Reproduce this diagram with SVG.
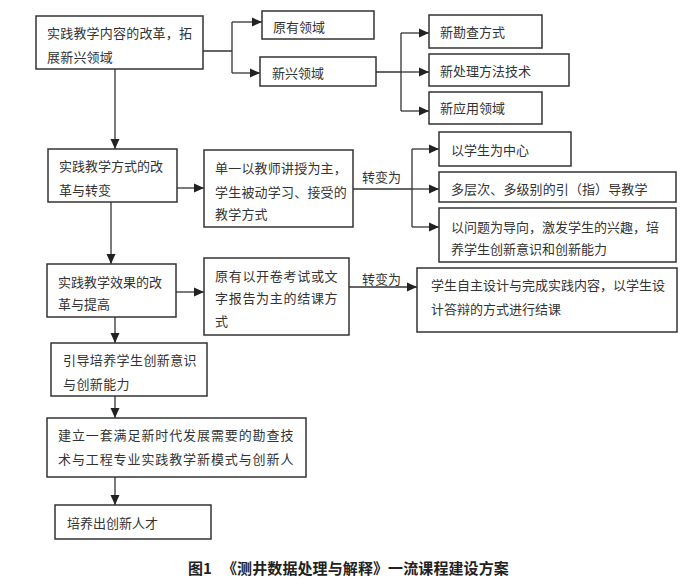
<svg xmlns="http://www.w3.org/2000/svg" width="700" height="588" viewBox="0 0 700 588">
<defs>
<marker id="ah" markerUnits="userSpaceOnUse" markerWidth="10" markerHeight="10" viewBox="0 0 10 10" refX="10" refY="5" orient="auto">
<path d="M0,0.5 L10,5 L0,9.5 Z" fill="#222"/>
</marker>
<style>
.box{fill:#fff;stroke:#333;stroke-width:1.5}
.t{font-family:"Noto Sans CJK SC","Noto Sans CJK JP",sans-serif;font-size:13px;fill:#333}
.ln{fill:none;stroke:#333;stroke-width:1.3}
.ar{fill:none;stroke:#333;stroke-width:1.3;marker-end:url(#ah)}
.cap{font-family:"Noto Sans CJK SC",sans-serif;font-size:15px;font-weight:bold;fill:#222}
</style>
</defs>
<rect width="700" height="588" fill="#fff"/>
<g id="connectors">
<path class="ar" d="M115,69 V149"/>
<path class="ar" d="M111,202 V264"/>
<path class="ar" d="M115,317 V343"/>
<path class="ar" d="M115,396 V418"/>
<path class="ar" d="M115,477 V505"/>
<path class="ln" d="M203,51 H232 M232,22 V73"/>
<path class="ar" d="M232,22 H262"/>
<path class="ar" d="M232,73 H260"/>
<path class="ln" d="M376,72 H401 M401,33 V111"/>
<path class="ar" d="M401,33 H429"/>
<path class="ar" d="M401,72 H429"/>
<path class="ar" d="M401,111 H429"/>
<path class="ar" d="M177,188 H204"/>
<path class="ln" d="M353,189 H412 M412,149 V227"/>
<path class="ar" d="M412,149 H439"/>
<path class="ar" d="M412,189 H439"/>
<path class="ar" d="M412,227 H439"/>
<path class="ar" d="M176,292 H204"/>
<path class="ar" d="M349,287 H417"/>
<text class="t" x="362" y="182">转变为</text>
<text class="t" x="362" y="284">转变为</text>
</g>
<g id="nA"><rect class="box" x="36" y="16" width="167" height="53"/><text class="t" x="47" y="38" letter-spacing="0.2">实践教学内容的改革，拓</text><text class="t" x="47" y="62" letter-spacing="0.2">展新兴领域</text></g>
<g id="nOld"><rect class="box" x="262" y="11" width="112" height="28"/><text class="t" x="273" y="32">原有领域</text></g>
<g id="nNew"><rect class="box" x="260" y="57" width="116" height="29"/><text class="t" x="272" y="78">新兴领域</text></g>
<g id="nN1"><rect class="box" x="429" y="15" width="113" height="33"/><text class="t" x="440" y="37">新勘查方式</text></g>
<g id="nN2"><rect class="box" x="429" y="54" width="140" height="32"/><text class="t" x="440" y="76">新处理方法技术</text></g>
<g id="nN3"><rect class="box" x="429" y="92" width="113" height="32"/><text class="t" x="440" y="113">新应用领域</text></g>
<g id="nB"><rect class="box" x="48" y="149" width="129" height="53"/><text class="t" x="59" y="171">实践教学方式的改</text><text class="t" x="59" y="195">革与转变</text></g>
<g id="nC"><rect class="box" x="204" y="150" width="149" height="77"/><text class="t" x="215" y="173" letter-spacing="0.2">单一以教师讲授为主，</text><text class="t" x="215" y="197" letter-spacing="0.2">学生被动学习、接受的</text><text class="t" x="215" y="219" letter-spacing="0.2">教学方式</text></g>
<g id="nC1"><rect class="box" x="439" y="132" width="132" height="34"/><text class="t" x="451" y="155">以学生为中心</text></g>
<g id="nC2"><rect class="box" x="439" y="172" width="237" height="30"/><text class="t" x="451" y="194" letter-spacing="0.1">多层次、多级别的引（指）导教学</text></g>
<g id="nC3"><rect class="box" x="439" y="208" width="237" height="54"/><text class="t" x="451" y="232" font-size="12.5">以问题为导向，激发学生的兴趣，培</text><text class="t" x="451" y="254" font-size="12.5">养学生创新意识和创新能力</text></g>
<g id="nD"><rect class="box" x="47" y="264" width="129" height="53"/><text class="t" x="58" y="287">实践教学效果的改</text><text class="t" x="58" y="309">革与提高</text></g>
<g id="nE"><rect class="box" x="204" y="258" width="145" height="77"/><text class="t" x="215" y="281" letter-spacing="0.7">原有以开卷考试或文</text><text class="t" x="215" y="303" letter-spacing="0.7">字报告为主的结课方</text><text class="t" x="215" y="326" letter-spacing="0.7">式</text></g>
<g id="nI"><rect class="box" x="417" y="268" width="260" height="64"/><text class="t" x="431" y="290">学生自主设计与完成实践内容，以学生设</text><text class="t" x="431" y="314">计答辩的方式进行结课</text></g>
<g id="nF"><rect class="box" x="51" y="343" width="156" height="53"/><text class="t" x="63" y="365" letter-spacing="0.4">引导培养学生创新意识</text><text class="t" x="63" y="389" letter-spacing="0.4">与创新能力</text></g>
<g id="nG"><rect class="box" x="47" y="418" width="259" height="59"/><text class="t" x="58" y="440" letter-spacing="0.9">建立一套满足新时代发展需要的勘查技</text><text class="t" x="58" y="464" letter-spacing="0.9">术与工程专业实践教学新模式与创新人</text></g>
<g id="nH"><rect class="box" x="55" y="505" width="156" height="34"/><text class="t" x="67" y="528">培养出创新人才</text></g>
<text class="cap" x="188" y="574">图1</text>
<text class="cap" x="222" y="574" letter-spacing="0.1">《测井数据处理与解释》一流课程建设方案</text>
</svg>
